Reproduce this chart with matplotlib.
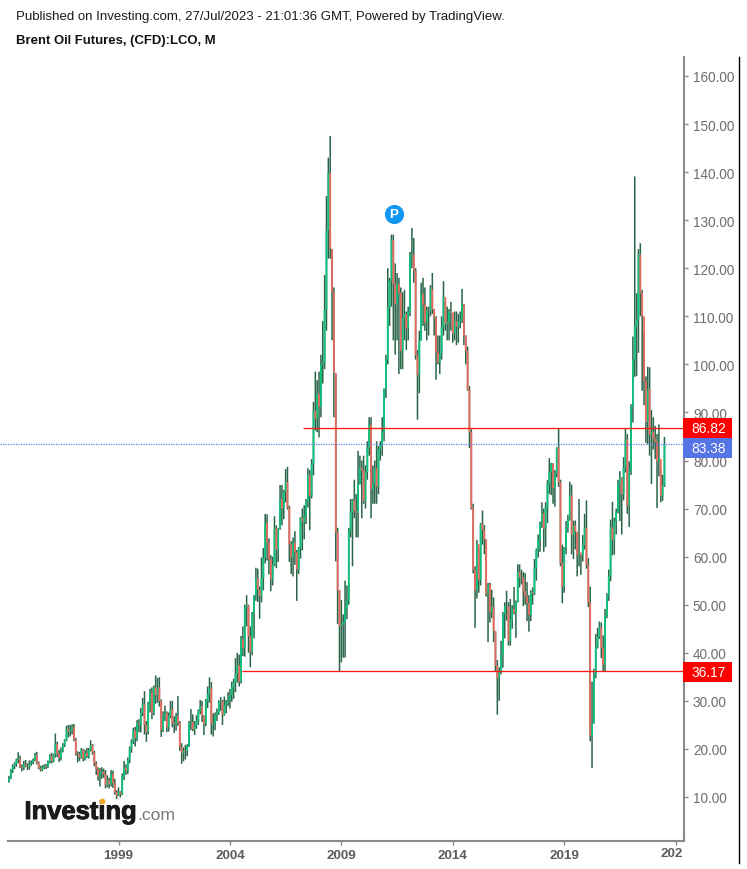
import numpy as np
import matplotlib
matplotlib.use('Agg')
import matplotlib.pyplot as plt
import matplotlib.patheffects as pe
from matplotlib.patches import Rectangle

plt.rcParams['font.family'] = ['Liberation Sans', 'DejaVu Sans']

# monthly bars, Feb 1994 to Jul 2023, one row per year
opens = [
13.3,13.9,15.6,16.4,16.9,17.8,18,16.2,16,16.9,16.4,
16.3,16.9,17.2,17.6,18.8,17.2,16,15.7,16.1,16.5,16.3,17.2,
18.6,17.5,18.8,21,19,18.2,19.6,20.7,21.8,24.2,23.6,24,
24.6,22,19,18.9,18.3,19.8,18,19.2,18.5,19.8,20.8,19.2,
16.9,15.8,14.2,15,15.2,14.7,12.5,13.5,12.6,14.8,12.9,11,
10.4,11,10.6,14.4,16,15.4,17.7,20.2,21.6,23.9,22.2,25.3,
25,27.5,29.2,25,23.5,29.5,31.7,27.4,32.8,31.2,32.8,30,
24,26.9,27.5,24.5,26.9,28.2,25.4,25.2,26.8,25.4,20.4,19.2,
19.7,19.5,20.7,25.4,25.6,24.1,24.9,25.9,27.9,28.9,26.9,25.2,
29.9,31.4,32.7,25.1,25.4,26.9,27.5,29.7,30,27.1,29.2,30,
30.2,31.2,32.8,33.8,35.6,37.4,34,42.9,41,49.5,49.8,43.4,
40.2,48.2,51.9,55.5,53.1,51.8,55.6,59.7,67,62.9,59.5,55.3,
58.3,65.9,61.4,65.9,72,70,73.5,75.5,70.2,62.5,59.8,62.9,
60.9,57.4,61.8,68,67.3,68.6,71.4,77,72.7,79.2,90.3,88.7,
93.9,91.2,100,100.3,111.4,127.8,139.8,124,115,98.2,65,53,
45.6,45.9,46.4,49.2,50.8,65.4,69.3,71.7,69.5,69.1,75.2,78.5,
77.9,71.5,77.6,82.7,87.4,74,75,78.4,74.6,82.3,83.2,85.9,
94.8,101,111.8,117.4,125.9,116.7,112.5,116.7,114.9,102.8,109.6,110.5,
107.4,111,122.7,122.9,119.5,101.9,97.8,104.9,114.6,112.4,108.7,111.2,
111.1,115.6,111.4,109.6,102.4,100.4,102.2,107.7,114,108.4,108.8,111,
110.8,106.4,109,107.8,109,109.4,112.4,106,102.8,94.7,85.9,70,
57.3,53,62.6,55.1,66.8,65.6,63.6,52.2,54.2,48.4,49.6,44.6,
37.3,34.7,36,39.6,48.1,49.7,49.7,42.5,47,49.1,48.3,50.5,
56.8,55.7,55.6,52.8,51.7,50.3,47.9,52.7,52.4,57.5,61.4,63.6,
66.9,69,65.8,70.3,75.2,77.6,79.4,74.2,77.4,82.7,75.5,58.7,
53.8,61.9,66,67.6,72.8,64.5,66.5,65.2,60.4,60.8,60.2,62.4,
66,58.2,50.5,22.7,25.3,35.3,41.2,43.3,45.3,41,37.5,47.6,
51.8,55.9,66.1,63.5,67.3,69.3,75.1,76.3,73,78.5,84.4,70.6,
77.8,91.2,101,107.9,109.3,122.8,114.8,110,96.5,88,94.8,85.4,
85.9,84.5,83.9,79.8,80.3,72.7,74.9,
]
highs = [
14.4,15.8,16.8,17.2,18,19.3,18.6,16.8,17.5,17.7,17,
17.6,17.6,18,19.2,19.4,17.4,16.5,16.6,16.8,16.9,17.6,18.9,
19.2,19,23.2,21.5,19.8,20.3,21.2,22,24.8,25,25,25.1,
25.2,22.3,19.5,19.4,20.2,20,19.8,20.2,20.2,21.8,21,19.6,
17.4,16.2,16,16.2,15.9,15.6,14.5,14,15.6,15.5,13.8,11.4,
12,11.2,14.9,17.5,16.8,18.2,20.5,22,24.4,24.6,26,26.2,
28.5,30.6,32,25.8,29.8,32.5,32.8,33.2,35.3,34.8,34.9,30.3,
27.8,29,27.8,27.6,30,30,26.8,27.5,31,25.8,21.2,20.3,
20.8,21,25.8,28.3,27.2,25.8,27,28.2,30.2,30,27,30.4,
33,34.9,33.9,27.4,27.6,28.4,30.1,30.8,30.2,30.9,30.2,31.8,
32.5,34,34.6,38.9,40,39.6,43.5,45.5,50,52,50,45.5,
48.5,52,57.7,57.5,53.8,59.8,61.8,68.9,68.8,63.8,60.3,60,
68.4,66.5,65.9,74.9,74.9,73.9,78.2,78.7,70.6,63.2,64,65.3,
61.4,62,68.2,70,70.7,72,78.4,78,80.3,92.2,98.5,96.7,
98.5,102,109,118.6,135,143,147.5,124,116,98,66,53,
51,48,55,54,66,72,72,76,73,82,81,80,
81,79,84,89,89,79,80,84,83,84,89,95,
102,120,118,127,127,121,119,118,116,115,115.5,111,
112,123.4,128.4,126.3,120,103,107,117,118,116,112,112,
116.5,119,111.5,110,106,106,110,117.3,113,112,111.5,113,
108.6,111,111,110.5,111,115.7,112.5,106,103.7,95.5,86.5,71,
58,63.5,61.4,67,69.6,66.6,63.5,54.5,54.6,53.1,51.5,44.3,
38.5,37,42.5,48.5,50.5,52.9,50.5,51.2,49.9,53.7,50.9,58.4,
58.4,57.3,56.8,56.6,54.7,52,53,53.6,59.5,61.7,64.6,67.3,
71.3,70,71.3,75.9,80.5,79.5,79.4,78,82.7,86.7,76,62.5,
62,67.4,68.7,75.6,75,67.5,67.5,65,72,60.8,64.5,68.9,
71.7,59.7,53.8,34,36.7,43.9,45.2,46.5,46.3,43.6,49.1,52.4,
57.3,67.7,71.4,68.1,70,76,77.8,76.5,80.7,86.7,85.5,79.8,
91.7,105.8,139.1,114.8,124,125.2,115.5,106.5,97.5,99.5,99.4,90.5,
89,87.2,85.5,87.5,78,77,84.9,
]
lows = [
13,13.7,15,15.8,16.3,17,16,15.3,15.6,16.2,15.6,
15.7,16.5,16.8,17.4,16.8,15.8,15.3,15.4,15.8,15.8,16,17,
17,17.2,18.2,18.3,17.3,17.6,19.3,20.4,21.6,22.4,22.6,23,
21.6,18.6,17.2,17.5,18,17.4,17.6,18.1,18,19.5,18.8,16.4,
14.6,13.4,12.2,13.8,14,11.8,12,11.8,12.2,11.9,10.5,9.6,
10.2,9.9,10.4,13.5,14.6,14.8,17,19.2,21,20.5,21.6,23.5,
23.4,26.8,23,21.5,23,27.6,26.2,27,29.4,29.6,28.8,22.5,
23.5,25.8,23.5,23.6,26.4,24.5,23.3,23.8,24.8,19.6,16.9,17.4,
17.8,18.5,20.4,23.9,23.7,22.9,24.2,25,27.2,25.6,22.9,24.7,
28.5,29.6,23,22.6,23.9,25.8,27.1,27.9,25,26.9,27.4,28.9,
28.4,29.8,30.4,31.8,33.8,33,33.6,39.3,39.2,45.5,40,37,
39.5,43,50.8,50.6,47.1,50.5,53,58.6,59.2,56.3,52.8,54,
58,57.6,58.9,65.6,66.5,67.8,71.3,69.8,58.9,56.4,55.9,58.3,
50.8,56.4,59.6,61.3,63.6,66.8,70.2,65.5,72.1,76.9,86.2,85.9,
84.8,89,96,99,107,122,122,105,89,59,46,36.2,
38,39,39,47,50,64,58,68,64,64,75,68,
71,70,76,81,68,71,71,71,73,80,81,84,
93,100,108,112,105,102,105,98,99,99,105,103,
105,110,120,117,101,88.5,94,105,108,107,105,106,
110,110.5,106,96.8,100,98,101,106,107,105,105,107,
104.5,105,104,104.5,107.5,108.6,104,100,94.5,82.6,69.8,56.5,
45.2,51.3,52.5,54,62.5,60.5,51.7,42.2,46.3,47.2,42.2,36.1,
27.1,30,35.5,36.9,43,46.7,41.5,41.5,45,48,43.1,50.5,
53.6,54.2,49.7,50,46.6,44.4,46.6,50,52,55,59.8,61,
66,61,62,67,73,72.8,71,70.4,76.5,74.5,58,50.3,
52.5,60.5,65,67.5,60.5,59.5,61.5,55.9,58,56.2,59,61.5,
57.5,49.5,21.6,16,25.3,34.7,40.9,42.9,38.9,36,36.2,47.2,
50.8,54.9,60.3,60.4,64.6,69,67.4,64.6,71.7,77.5,68.9,66.2,
77,87.9,97.4,97.6,102.4,110,94.5,91.5,83.7,83.4,81,75.1,
82.3,80.3,70.1,76.7,71.3,71.6,74.5,
]
closes = [
13.9,15.6,16.4,16.9,17.8,18,16.2,16,16.9,16.4,16.3,
16.9,17.2,17.6,18.8,17.2,16,15.7,16.1,16.5,16.3,17.2,18.6,
17.5,18.8,21,19,18.2,19.6,20.7,21.8,24.2,23.6,24,24.6,
22,19,18.9,18.3,19.8,18,19.2,18.5,19.8,20.8,19.2,16.9,
15.8,14.2,15,15.2,14.7,12.5,13.5,12.6,14.8,12.9,11,10.2,
11,10.6,14.4,16,15.4,17.7,20.2,21.6,23.9,22.2,25.3,25,
27.5,29.2,25,23.5,29.5,31.7,27.4,32.8,31.2,32.8,30,24,
26.9,27.5,24.5,26.9,28.2,25.4,25.2,26.8,25.4,20.4,19.2,19.7,
19.5,20.7,25.4,25.6,24.1,24.9,25.9,27.9,28.9,26.9,25.2,29.9,
31.4,32.7,25.1,25.4,26.9,27.5,29.7,30,27.1,29.2,30,30.2,
31.2,32.8,33.8,35.6,37.4,34,42.9,41,49.5,49.8,43.4,40.2,
48.2,51.9,55.5,53.1,51.8,55.6,59.7,67,62.9,59.5,55.3,58.3,
65.9,61.4,65.9,72,70,73.5,75.5,70.2,62.5,59.8,62.9,60.9,
57.4,61.8,68,67.3,68.6,71.4,77,72.7,79.2,90.3,88.7,93.9,
91.2,100,100.3,111.4,127.8,139.8,124,115,98.2,65,53,45.6,
45.9,46.4,49.2,50.8,65.4,69.3,71.7,69.5,69.1,75.2,78.5,77.9,
71.5,77.6,82.7,87.4,74,75,78.4,74.6,82.3,83.2,85.9,94.8,
101,111.8,117.4,125.9,116.7,112.5,116.7,114.9,102.8,109.6,110.5,107.4,
111,122.7,122.9,119.5,101.9,97.8,104.9,114.6,112.4,108.7,111.2,111.1,
115.6,111.4,109.6,102.4,100.4,102.2,107.7,114,108.4,108.8,111,110.8,
106.4,109,107.8,109,109.4,112.4,106,102.8,94.7,85.9,70,57.3,
53,62.6,55.1,66.8,65.6,63.6,52.2,54.2,48.4,49.6,44.6,37.3,
34.7,36,39.6,48.1,49.7,49.7,42.5,47,49.1,48.3,50.5,56.8,
55.7,55.6,52.8,51.7,50.3,47.9,52.7,52.4,57.5,61.4,63.6,66.9,
69,65.8,70.3,75.2,77.6,79.4,74.2,77.4,82.7,75.5,58.7,53.8,
61.9,66,67.6,72.8,64.5,66.5,65.2,60.4,60.8,60.2,62.4,66,
58.2,50.5,22.7,25.3,35.3,41.2,43.3,45.3,41,37.5,47.6,51.8,
55.9,66.1,63.5,67.3,69.3,75.1,76.3,73,78.5,84.4,70.6,77.8,
91.2,101,107.9,109.3,122.8,114.8,110,96.5,88,94.8,85.4,85.9,
84.5,83.9,79.8,80.3,72.7,74.9,83.38,
]

price_ticks = [10,20,30,40,50,60,70,80,90,100,110,120,130,140,150,160]
year_months = [60,120,180,240,300,360]   # months since Jan 1994
year_labels = ['1999','2004','2009','2014','2019','']
support = 36.17
resistance = 86.82
last_price = 83.38

W, H = 747, 870
o = np.array(opens)
h = np.array(highs)
l = np.array(lows)
c = np.array(closes)
m = np.arange(1, len(c)+1)

def fx(px): return px/W
def fy(px): return 1-px/H

fig = plt.figure(figsize=(W/100, H/100), dpi=100, facecolor='white')
ax = fig.add_axes([fx(8), fy(841.5), fx(684)-fx(8), fy(58)-fy(841.5)])

# x: 1.857 px a month, Jan 1999 at px 118.5  /  y: 4.807 px a dollar, 10 at px 798
ax.set_xlim(60+(8-118.5)/1.857, 60+(684-118.5)/1.857)
ax.set_ylim(10-(841.5-798)/4.807, 10+(798-58)/4.807)

up = c >= o
wicks = ax.vlines(m, l, h, color='#2a6549', lw=1.1, zorder=2)
body_up = ax.vlines(m[up], o[up], c[up], color='#0cc27c', lw=1.3, zorder=3)
body_dn = ax.vlines(m[~up], o[~up], c[~up], color='#e8695d', lw=1.3, zorder=3)
# no pixel snapping, the bars in the reference are soft
for coll in (wicks, body_up, body_dn):
    coll.set_snap(False)

ax.hlines(resistance, 60+(303-118.5)/1.857, ax.get_xlim()[1], color='#ff1a1a', lw=0.95, zorder=4)
ax.hlines(support, 60+(242-118.5)/1.857, ax.get_xlim()[1], color='#ff1a1a', lw=0.95, zorder=4)
ax.axhline(last_price, color='#5c80ea', lw=0.9, ls=(0, (1, 1)), zorder=4)
# the dotted line runs on to the left edge of the picture
fig.add_artist(plt.Line2D([0, fx(8)], [ax.transData.transform((0, last_price))[1]/H]*2,
                          color='#5c80ea', lw=0.9, ls=(0, (1, 1))))

for s in ['top', 'left']:
    ax.spines[s].set_visible(False)
for s in ['right', 'bottom']:
    ax.spines[s].set_color('#8a8a8a')
    ax.spines[s].set_linewidth(1.5)

ax.yaxis.tick_right()
ax.set_yticks(price_ticks)
ax.set_yticklabels(['%.2f' % p for p in price_ticks])
ax.tick_params(axis='y', length=3.2, width=1, color='#8a8a8a', labelcolor='#6e6e6e',
               labelsize=9.8, pad=3.2)
for lab in ax.get_yticklabels():
    lab.set_y(lab.get_position()[1])
ax.set_xticks(year_months)
ax.set_xticklabels(year_labels, fontweight='bold')
ax.tick_params(axis='x', length=3, width=1, color='#8a8a8a', labelcolor='#5c5c5c',
               labelsize=9.6, pad=3)
fig.text(fx(682.5), fy(854.5), '202', ha='right', va='center', fontsize=9.6,
         fontweight='bold', color='#5c5c5c')

# right hand border
fig.add_artist(plt.Line2D([fx(739)]*2, [fy(58), fy(864)], color='black', lw=1))

# price tags
for price, col, top in [(resistance, '#ff0000', 419), (last_price, '#5574e6', 439), (support, '#ff0000', 663)]:
    fig.add_artist(Rectangle((fx(683), fy(top+20)), 49/W, 20/H, transform=fig.transFigure,
                             facecolor=col, edgecolor='none', zorder=5))
    fig.text(fx(709), fy(top+10.3), '%.2f' % price, ha='center', va='center', color='white',
             fontsize=9.9, zorder=6)

# P marker
ax.plot([208.3], [131.2], 'o', ms=13.8, color='#1496f5', mec='none', zorder=6)
ax.text(208.3, 131.2, 'P', color='white', ha='center', va='center', fontsize=9.6,
        fontweight='bold', zorder=7)

# header
fig.text(fx(16), fy(17), 'Published on Investing.com, 27/Jul/2023 - 21:01:36 GMT, Powered by TradingView.',
         ha='left', va='center', fontsize=9.5, color='#1a1a1a')
fig.text(fx(16), fy(41), 'Brent Oil Futures, (CFD):LCO, M', ha='left', va='center', fontsize=9.45,
         fontweight='bold', color='#111111')

# logo
fig.text(fx(24.5), fy(820), 'Investing', ha='left', va='baseline', fontsize=18.4, fontweight='bold',
         color='#1a1a1a', path_effects=[pe.withStroke(linewidth=0.7, foreground='#1a1a1a')])
fig.text(fx(137.5), fy(820), '.com', ha='left', va='baseline', fontsize=12.6, color='#777777')
fig.add_artist(plt.Line2D([fx(101.7)], [fy(801.5)], marker='o', ms=4.2, color='#f5a623', mec='none', zorder=8))

fig.savefig('out.png', dpi=100)
